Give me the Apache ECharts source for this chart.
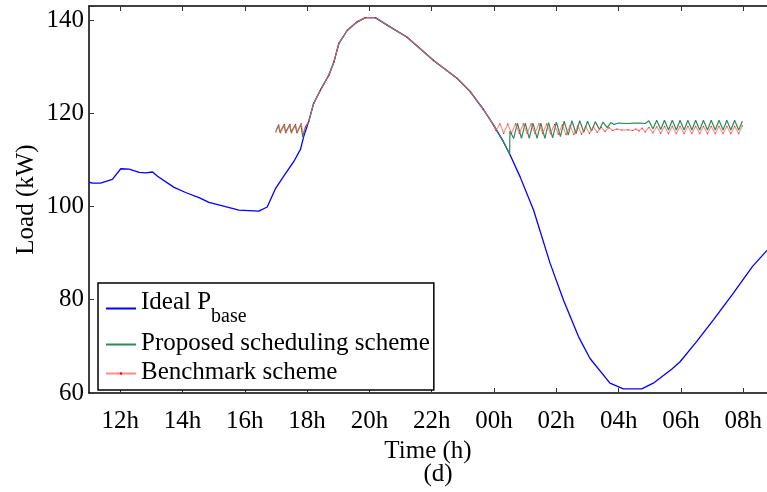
<!DOCTYPE html>
<html>
<head>
<meta charset="utf-8">
<script src="https://cdn.jsdelivr.net/npm/echarts@6/dist/echarts.min.js"></script>
<style>html,body{margin:0;padding:0;background:#fff;}#c{width:767px;height:492px;}</style>
</head>
<body>
<div id="c"></div>
<script>
// ---- data (hours from midnight of day 1; 24+ = next day) ----
var tickHours = [12, 14, 16, 18, 20, 22, 24, 26, 28, 30, 32];
var yTicks = [60, 80, 100, 120, 140];

var idealTime = [11.0,11.11,11.37,11.75,12.02,12.29,12.61,12.82,13.04,13.2,13.73,14.1,14.53,14.85,15.38,15.81,16.45,16.72,16.99,17.31,17.57,17.79,17.89,18.05,18.21,18.43,18.7,18.86,19.02,19.29,19.61,19.87,20.19,20.57,21.21,22.06,22.81,23.24,23.66,23.98,24.3,24.52,24.84,25.27,25.8,26.23,26.71,27.08,27.72,28.15,28.74,29.11,29.7,29.97,30.5,31.04,31.68,32.29,32.76];
var idealLoad = [105.2,105.0,105.0,105.8,108.1,108.0,107.3,107.2,107.4,106.5,104.1,103.0,101.9,100.9,99.95,99.2,99.0,99.9,103.9,107.1,109.6,112.3,115.0,118.2,122.1,125.0,128.2,131.0,135.0,137.8,139.6,140.5,140.5,138.9,136.3,131.3,127.5,124.6,120.8,117.5,113.9,111.0,106.3,99.2,87.8,79.9,72.1,67.4,62.1,60.9,60.9,62.1,65.1,66.7,71.0,75.7,81.4,87.1,90.6];

var proposedTime = [17.00,17.08,17.13,17.26,17.31,17.44,17.49,17.62,17.67,17.80,17.86,
  17.95,18.05,18.21,18.43,18.7,18.86,19.02,19.29,19.61,19.87,20.19,20.57,21.21,22.06,22.81,23.24,23.66,23.98,24.3,24.5,
  24.51,24.63,24.75,24.88,25.00,25.13,25.25,25.38,25.50,25.63,25.75,25.88,26.00,26.13,26.25,26.38,26.50,26.63,26.75,26.88,
  27.00,27.13,27.25,27.38,27.50,27.63,27.75,27.85,28.00,28.30,28.50,28.70,28.85,28.97,29.10,29.22,29.35,29.47,29.60,29.72,
  29.85,29.97,30.10,30.22,30.35,30.47,30.60,30.72,30.85,30.97,31.10,31.22,31.35,31.47,31.60,31.72,31.85,31.97];
var proposedLoad = [116.2,117.4,115.9,117.5,115.9,117.5,115.9,117.5,115.8,117.6,114.9,
  117.1,118.2,122.1,125.0,128.2,131.0,135.0,137.8,139.6,140.5,140.5,138.9,136.3,131.3,127.5,124.6,120.8,117.5,113.9,111.3,
  116.2,114.6,117.9,114.6,117.9,114.6,117.9,114.6,117.9,114.6,118.0,114.7,118.1,115.0,118.3,115.3,118.4,115.6,118.4,115.9,
  118.3,116.2,118.2,116.5,118.1,116.9,118.0,117.6,117.9,117.8,117.9,117.9,117.8,118.4,116.6,118.5,116.5,118.5,116.4,118.5,
  116.4,118.5,116.4,118.5,116.4,118.5,116.4,118.5,116.4,118.5,116.4,118.5,116.4,118.5,116.4,118.5,116.4,118.3];

var benchTime = [17.00,17.09,17.14,17.27,17.32,17.45,17.50,17.63,17.68,17.81,17.87,
  17.95,18.05,18.21,18.43,18.7,18.86,19.02,19.29,19.61,19.87,20.19,20.57,21.21,22.06,22.81,23.24,23.66,23.98,
  24.06,24.19,24.31,24.44,24.56,24.69,24.81,24.94,25.06,25.19,25.31,25.44,25.56,25.69,25.81,25.94,26.06,26.19,26.31,26.44,
  26.56,26.69,26.81,26.94,27.06,27.19,27.31,27.44,27.56,27.69,27.81,27.94,28.10,28.30,28.45,28.55,28.65,28.75,28.85,28.97,
  29.10,29.22,29.35,29.47,29.60,29.72,29.85,29.97,30.10,30.22,30.35,30.47,30.60,30.72,30.85,30.97,31.10,31.22,31.35,31.47,
  31.60,31.72,31.85,31.97];
var benchLoad = [116.0,117.5,115.8,117.6,115.8,117.6,115.8,117.6,115.8,117.8,115.6,
  117.1,118.2,122.1,125.0,128.2,131.0,135.0,137.8,139.6,140.5,140.5,138.9,136.3,131.3,127.5,124.6,120.8,117.5,
  116.3,117.7,115.7,117.7,115.7,117.7,115.7,117.7,115.7,117.7,115.7,117.7,115.7,117.7,115.6,117.6,115.5,117.5,115.4,117.4,
  115.4,117.3,115.5,117.2,115.7,117.1,115.9,117.0,116.1,116.9,116.3,116.6,116.4,116.45,116.3,116.6,116.2,116.8,116.0,117.0,
  115.8,117.1,115.7,117.2,115.6,117.2,115.6,117.2,115.6,117.2,115.6,117.2,115.6,117.2,115.6,117.2,115.6,117.2,115.6,117.2,
  115.6,117.2,115.6,117.3];

function zip(a, b) { return a.map(function (t, i) { return [t, b[i]]; }); }
function hourLabel(v) { var h = Math.round(v) % 24; return (h < 10 ? '0' : '') + h + 'h'; }

var FONT = '"Liberation Serif", "Times New Roman", serif';
var chart = echarts.init(document.getElementById('c'), null, { renderer: 'canvas' });
chart.setOption({
  animation: false,
  backgroundColor: '#fff',
  textStyle: { fontFamily: FONT, color: '#000' },
  title: {
    text: '(d)', left: 433, top: 457, textAlign: 'center',
    textStyle: { fontFamily: FONT, fontSize: 25, fontWeight: 'normal', color: '#000' }
  },
  grid: { left: 89, top: 6, right: 0, bottom: 99, containLabel: false },
  legend: {
    orient: 'vertical', left: 98, top: 283,
    itemWidth: 30, itemHeight: 3, itemGap: 4,
    padding: [7, 4, 5, 7],
    backgroundColor: '#fff', borderColor: '#000', borderWidth: 1.5,
    data: [
      { name: 'Ideal Pbase', itemStyle: { opacity: 0 }, textStyle: { padding: [0, 0, 10, 0] } },
      { name: 'Proposed scheduling scheme', itemStyle: { opacity: 0 } },
      { name: 'Benchmark scheme' }
    ],
    formatter: function (name) {
      if (name === 'Ideal Pbase') return '{n|Ideal P}{s|base}';
      return '{n|' + name + '}';
    },
    textStyle: {
      fontFamily: FONT, fontSize: 25, color: '#000',
      rich: {
        n: { fontFamily: FONT, fontSize: 25, lineHeight: 27, verticalAlign: 'top', color: '#000' },
        s: { fontFamily: FONT, fontSize: 20, lineHeight: 21, padding: [17, 0, 0, 0], verticalAlign: 'top', color: '#000' }
      }
    }
  },
  xAxis: [{
    type: 'value', min: 11, max: 32.76, position: 'bottom',
    name: 'Time (h)', nameLocation: 'middle', nameGap: 41,
    nameTextStyle: { fontFamily: FONT, fontSize: 25, color: '#000' },
    axisLine: { show: true, onZero: false, lineStyle: { color: '#000', width: 1.5 } },
    axisTick: { show: true, inside: true, length: 5, customValues: tickHours, lineStyle: { color: '#333' } },
    axisLabel: { customValues: tickHours, formatter: hourLabel, margin: 16, fontFamily: FONT, fontSize: 25, color: '#000' },
    splitLine: { show: false }
  }, {
    type: 'value', min: 11, max: 32.76, position: 'top',
    axisLine: { show: true, onZero: false, lineStyle: { color: '#000', width: 1.5 } },
    axisTick: { show: true, inside: true, length: 5, customValues: tickHours, lineStyle: { color: '#333' } },
    axisLabel: { show: false },
    splitLine: { show: false }
  }],
  yAxis: {
    type: 'value', min: 60, max: 143, interval: 20,
    name: 'Load (kW)', nameLocation: 'middle', nameGap: 50, nameRotate: 90, nameMoveOverlap: false,
    nameTextStyle: { fontFamily: FONT, fontSize: 25, color: '#000' },
    axisLine: { show: true, onZero: false, lineStyle: { color: '#000', width: 1.5 } },
    axisTick: { show: true, inside: true, length: 5, lineStyle: { color: '#333' } },
    axisLabel: { customValues: yTicks, margin: 5, fontFamily: FONT, fontSize: 25, color: '#000' },
    splitLine: { show: false }
  },
  series: [{
    name: 'Ideal Pbase', type: 'line', data: zip(idealTime, idealLoad),
    symbol: 'none', lineStyle: { color: '#0000ff', width: 1.3 }, itemStyle: { color: '#0000ff' }, z: 2
  }, {
    name: 'Proposed scheduling scheme', type: 'line', data: zip(proposedTime, proposedLoad),
    symbol: 'none', lineStyle: { color: '#2e8b57', width: 1.2 }, itemStyle: { color: '#2e8b57' }, z: 3
  }, {
    name: 'Benchmark scheme', type: 'line', data: zip(benchTime, benchLoad),
    symbol: 'circle', symbolSize: 1.2, showSymbol: true,
    lineStyle: { color: 'rgba(255,90,90,0.7)', width: 1.1 }, itemStyle: { color: '#ff0000' }, z: 4
  }]
});
</script>
</body>
</html>
